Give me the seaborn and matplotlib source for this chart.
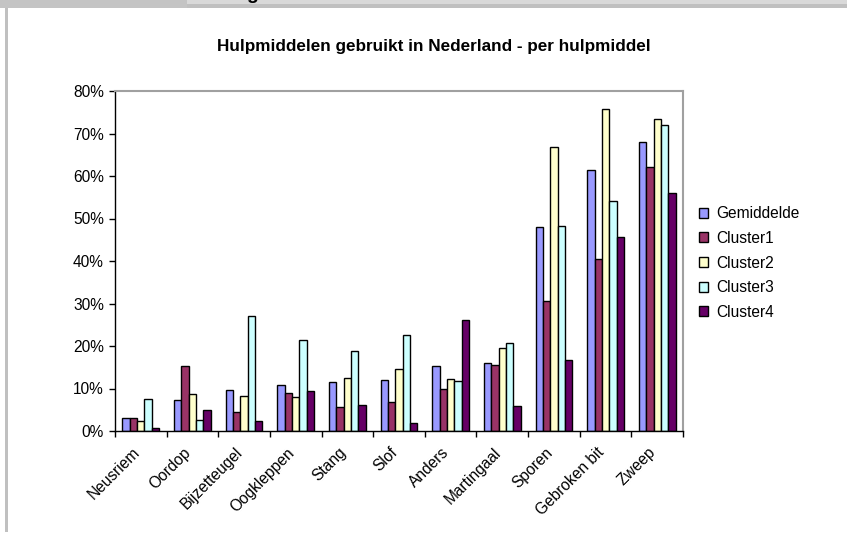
import matplotlib
matplotlib.use("Agg")
import matplotlib.pyplot as plt
import matplotlib.transforms as mtransforms
import seaborn as sns
import pandas as pd
from matplotlib.patches import Rectangle
from matplotlib.ticker import FuncFormatter, FixedLocator

# data (percentages)
categories = ["Neusriem", "Oordop", "Bijzetteugel", "Oogkleppen", "Stang", "Slof",
              "Anders", "Martingaal", "Sporen", "Gebroken bit", "Zweep"]
series = ["Gemiddelde", "Cluster1", "Cluster2", "Cluster3", "Cluster4"]
gemiddelde = [3.0, 7.2, 9.7, 10.8, 11.6, 12.1, 15.4, 16.0, 48.0, 61.4, 67.9]
cluster1 = [3.0, 15.2, 4.4, 9.0, 5.6, 6.9, 9.8, 15.5, 30.5, 40.5, 62.2]
cluster2 = [2.3, 8.7, 8.3, 7.9, 12.4, 14.7, 12.3, 19.6, 66.8, 75.8, 73.3]
cluster3 = [7.5, 2.5, 27.0, 21.4, 18.8, 22.7, 11.8, 20.7, 48.3, 54.2, 72.1]
cluster4 = [0.6, 4.9, 2.3, 9.4, 6.1, 1.8, 26.1, 5.9, 16.7, 45.7, 56.0]
colors = ["#9999FF", "#993366", "#FFFFCC", "#CCFFFF", "#660066"]

rows = []
for name, vals in zip(series, [gemiddelde, cluster1, cluster2, cluster3, cluster4]):
    for cat, v in zip(categories, vals):
        rows.append({"hulpmiddel": cat, "reeks": name, "waarde": v})
df = pd.DataFrame(rows)

sns.set_style("white")
plt.rcParams["font.family"] = ["Liberation Sans", "DejaVu Sans"]
plt.rcParams["text.color"] = "black"
plt.rcParams["xtick.color"] = "black"
plt.rcParams["ytick.color"] = "black"
plt.rcParams["axes.labelcolor"] = "black"

fig = plt.figure(figsize=(8.47, 5.34), dpi=100)
W, H = 847, 534
ax = fig.add_axes([115 / W, 1 - 431 / H, 568 / W, 340 / H])

sns.barplot(data=df, x="hulpmiddel", y="waarde", hue="reeks", order=categories,
            hue_order=series, palette=colors, width=0.71, edgecolor="black",
            linewidth=1, saturation=1, ax=ax, legend=False)

ax.set_ylim(0, 80)
ax.set_xlim(-0.5, len(categories) - 0.5)
ax.yaxis.set_major_locator(FixedLocator(range(0, 81, 10)))
ax.yaxis.set_major_formatter(FuncFormatter(lambda v, p: f"{v:.0f}%"))
ax.set_xlabel("")
ax.set_ylabel("")
ax.tick_params(axis="y", direction="out", length=4, width=1, color="black",
               labelcolor="black", labelsize=11.2, pad=4, left=True)
ax.set_xticks(range(len(categories)))
ax.set_xticklabels(categories, rotation=45, ha="right", rotation_mode="anchor",
                   fontsize=11.2, color="black")
ax.tick_params(axis="x", which="major", length=0, pad=10)
shift = mtransforms.ScaledTranslation(-9 / 100, 0, fig.dpi_scale_trans)
for lbl in ax.get_xticklabels():
    lbl.set_transform(lbl.get_transform() + shift)
ax.set_xticks([i - 0.5 for i in range(len(categories) + 1)], minor=True)
ax.tick_params(axis="x", which="minor", direction="out", length=4, width=1,
               color="black", bottom=True)

for side in ["top", "right"]:
    ax.spines[side].set_color("#A0A0A0")
    ax.spines[side].set_linewidth(1.5)
for side in ["left", "bottom"]:
    ax.spines[side].set_color("black")
    ax.spines[side].set_linewidth(1)

# legend
handles = [Rectangle((0, 0), 1, 1, facecolor=c, edgecolor="black", linewidth=1)
           for c in colors]
fig.legend(handles, series, loc="center left", bbox_to_anchor=(685 / W, 1 - 263 / H),
           frameon=False, fontsize=11.2, handlelength=0.6, handleheight=0.6,
           handletextpad=0.5, labelspacing=0.62, labelcolor="black")

fig.text(434 / W, 1 - 46 / H, "Hulpmiddelen gebruikt in Nederland - per hulpmiddel",
         ha="center", va="center", fontsize=12.3, fontweight="bold", color="black")

# spreadsheet window frame around the chart
fig.patches.append(Rectangle((0, 1 - 4 / H), 1, 4 / H, transform=fig.transFigure,
                             facecolor="#D9D9D9", edgecolor="none"))
fig.patches.append(Rectangle((0, 1 - 8 / H), 1, 4 / H, transform=fig.transFigure,
                             facecolor="#C0C0C0", edgecolor="none"))
fig.patches.append(Rectangle((0, 1 - 8 / H), 187 / W, 8 / H, transform=fig.transFigure,
                             facecolor="#C4C4C4", edgecolor="none"))
fig.patches.append(Rectangle((5 / W, 1 - 532 / H), 3 / W, 524 / H,
                             transform=fig.transFigure, facecolor="#C0C0C0",
                             edgecolor="none"))
fig.text(246 / W, 1 + 1 / H, "g", ha="left", va="baseline", fontsize=14,
         fontweight="bold", color="black")

fig.savefig("out.png", dpi=100, facecolor="white")
